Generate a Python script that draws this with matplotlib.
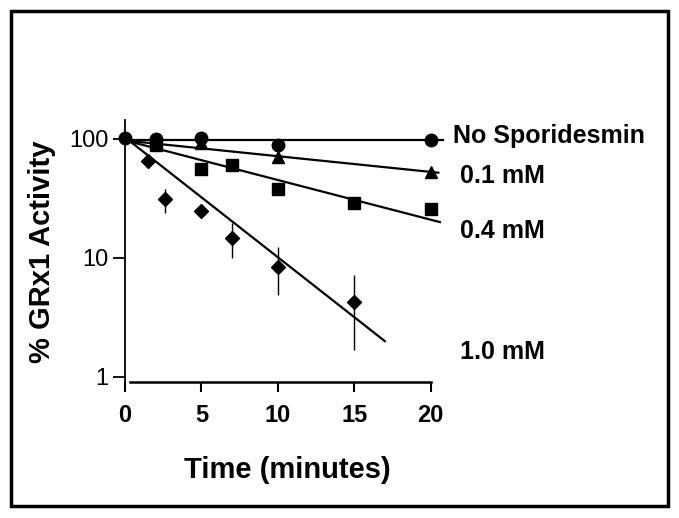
import matplotlib.pyplot as plt
from matplotlib.patches import Rectangle

plt.rcParams['font.family'] = ['Liberation Sans', 'DejaVu Sans']

# Data
t_none = [0, 2, 5, 10, 20]
act_none = [101, 100, 102, 88, 97]

t_01 = [2, 5, 10, 20]
act_01 = [95, 93, 70, 53]

t_04 = [2, 5, 7, 10, 15, 20]
act_04 = [88, 56, 60, 38, 29, 26]

t_10 = [1.5, 2.6, 5, 7, 10, 15]
act_10 = [65, 31, 25, 14.7, 8.4, 4.3]
err_lo_10 = [0, 7, 0, 4.7, 3.5, 2.6]
err_hi_10 = [0, 7, 0, 5, 4, 2.9]

# fitted lines (start/end points)
fit_none = ([0, 20.8], [97, 97])
fit_01 = ([0.3, 20.5], [96, 52])
fit_04 = ([0.3, 20.6], [95, 20])
fit_10 = ([0.3, 17.0], [96, 2.0])

labels = ["No Sporidesmin", "0.1 mM", "0.4 mM", "1.0 mM"]

fig = plt.figure(figsize=(6.79, 5.18), dpi=100)
ax = fig.add_axes([0.1841, 0.2471, 0.4727, 0.5212])

for xs, ys in [fit_none, fit_01, fit_04, fit_10]:
    ax.plot(xs, ys, color='black', lw=1.6, clip_on=False)

ax.plot(t_none, act_none, 'o', color='black', ms=9, clip_on=False)
ax.plot(t_01, act_01, '^', color='black', ms=8.5, clip_on=False)
ax.plot(t_04, act_04, 's', color='black', ms=8, clip_on=False)
ax.errorbar(t_10, act_10, yerr=[err_lo_10, err_hi_10], fmt='D', color='black',
            ms=7, elinewidth=1, capsize=0, clip_on=False)

ax.set_yscale('log')
ax.set_xlim(0, 21)
ax.set_ylim(0.777, 144)
ax.set_yticks([1, 10, 100])
ax.set_yticklabels(['1', '10', '100'])
ax.minorticks_off()
ax.set_xticks([0, 5, 10, 15, 20])

ax.spines['top'].set_visible(False)
ax.spines['right'].set_visible(False)
ax.spines['bottom'].set_position(('data', 0.908))
ax.spines['bottom'].set_bounds(0.3, 20)
ax.spines['left'].set_linewidth(1.3)
ax.spines['bottom'].set_linewidth(1.8)
ax.tick_params(axis='y', direction='out', length=9, width=1.3, labelsize=17, pad=3)
ax.tick_params(axis='x', direction='out', length=7, width=1.5, labelsize=17, pad=9)
for lab in ax.get_xticklabels():
    lab.set_fontweight('bold')

fig.text(42 / 679, 1 - 252 / 518, "% GRx1 Activity", rotation=90, fontsize=21,
         fontweight='bold', ha='center', va='center')
fig.text(287 / 679, 1 - 470 / 518, "Time (minutes)", fontsize=21,
         fontweight='bold', ha='center', va='center')

label_pos = [(453, 136), (460, 176), (460, 231), (460, 352)]
for (px, py), txt in zip(label_pos, labels):
    fig.text(px / 679, 1 - py / 518, txt, fontsize=18, fontweight='bold',
             ha='left', va='center')

fig.patches.append(Rectangle((11 / 679, 1 - 506 / 518), 657 / 679, 495 / 518,
                             transform=fig.transFigure, fill=False,
                             edgecolor='black', lw=2.5))

fig.savefig("out.png", dpi=100)
